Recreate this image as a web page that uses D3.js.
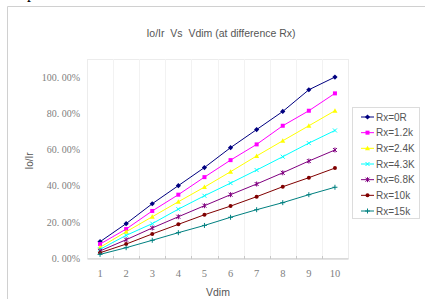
<!DOCTYPE html>
<html>
<head>
<meta charset="utf-8">
<script src="https://cdn.jsdelivr.net/npm/d3@7"></script>
<style>
body { margin:0; background:#fff; }
svg { display:block; }
</style>
</head>
<body>
<svg id="svg" width="425" height="299"></svg>
<script>
// data
var vdim = [1,2,3,4,5,6,7,8,9,10];
var seriesNames = ["Rx=0R","Rx=1.2k","Rx=2.4K","Rx=4.3K","Rx=6.8K","Rx=10k","Rx=15k"];
var rx0R  = [0.09,0.19,0.30,0.40,0.50,0.61,0.71,0.81,0.93,1.00];
var rx1k2 = [0.077,0.16,0.26,0.35,0.447,0.541,0.628,0.731,0.814,0.91];
var rx2k4 = [0.059,0.145,0.228,0.311,0.392,0.477,0.564,0.648,0.731,0.814];
var rx4k3 = [0.048,0.125,0.19,0.27,0.344,0.414,0.486,0.56,0.635,0.705];
var rx6k8 = [0.039,0.101,0.166,0.228,0.289,0.35,0.409,0.471,0.536,0.597];
var rx10k = [0.029,0.077,0.133,0.186,0.239,0.287,0.339,0.394,0.444,0.497];
var rx15k = [0.02,0.057,0.098,0.14,0.18,0.225,0.267,0.306,0.35,0.391];
var yTicks = [0,0.2,0.4,0.6,0.8,1.0];

var allSeries = [rx0R,rx1k2,rx2k4,rx4k3,rx6k8,rx10k,rx15k];
var colors = ["#000080","#ff00ff","#ffff00","#00ffff","#800080","#800000","#008080"];
var markers = ["diamond","square","triangle","x","star","circle","plus"];

var svg = d3.select("#svg");

// outer chart border
svg.append("path")
.attr("d","M7.5,310 V6.5 H440")
.attr("fill","none")
.attr("stroke","#d0d0d0");

// stray glyph at the top (cut off in the reference too)
svg.append("text")
.attr("x",27).attr("y",-2)
.style("font-family","Liberation Serif")
.style("font-size","16px")
.text("p");

var plot = {left:87, right:348, top:59, bottom:258};

var x = d3.scaleBand().domain(vdim).range([plot.left,plot.right]);
var y = d3.scaleLinear().domain([0,1.1]).range([plot.bottom,plot.top]);

// plot area box
svg.append("rect")
.attr("x",plot.left+0.5).attr("y",plot.top+0.5)
.attr("width",plot.right-plot.left).attr("height",plot.bottom-plot.top)
.attr("fill","none").attr("stroke","#ececec");

// light vertical grid at category boundaries
svg.append("g").selectAll("line")
.data(vdim.slice(1))
.join("line")
.attr("x1",function(d){ return Math.round(x(d))+0.5; })
.attr("x2",function(d){ return Math.round(x(d))+0.5; })
.attr("y1",plot.top).attr("y2",plot.bottom)
.attr("stroke","#f2f2f2");

// x axis
var xAxis = svg.append("g")
.attr("transform","translate(0,"+(plot.bottom+0.5)+")")
.call(d3.axisBottom(x).tickSize(0).tickPadding(11));
xAxis.select(".domain").attr("stroke","#c8c8c8");
xAxis.selectAll("text")
.style("font-family","Liberation Serif")
.style("font-size","10.5px")
.attr("fill","#808080");
svg.append("g").selectAll("line")
.data(vdim.slice(1))
.join("line")
.attr("x1",function(d){ return Math.round(x(d))+0.5; })
.attr("x2",function(d){ return Math.round(x(d))+0.5; })
.attr("y1",plot.bottom-2).attr("y2",plot.bottom+1)
.attr("stroke","#c8c8c8");

// y axis labels
var yAxis = svg.append("g")
.attr("transform","translate(80,0)")
.call(d3.axisLeft(y).tickValues(yTicks).tickSize(0).tickPadding(0)
  .tickFormat(function(d){ return d3.format(".2f")(d*100).replace(".",". ")+"%"; }));
yAxis.select(".domain").remove();
yAxis.selectAll("text")
.style("font-family","Liberation Serif")
.style("font-size","10px")
.style("white-space","pre")
.attr("fill","#808080");

// titles
svg.append("text")
.attr("x",221).attr("y",37)
.attr("text-anchor","middle")
.style("font-family","Liberation Sans")
.style("font-size","10.5px")
.style("white-space","pre")
.attr("fill","#555")
.text("Io/Ir  Vs  Vdim (at difference Rx)");

svg.append("text")
.attr("x",218).attr("y",296)
.attr("text-anchor","middle")
.style("font-family","Liberation Sans")
.style("font-size","10.5px")
.attr("fill","#555")
.text("Vdim");

svg.append("text")
.attr("transform","translate(33,161) rotate(-90)")
.attr("text-anchor","middle")
.style("font-family","Liberation Sans")
.style("font-size","10px")
.attr("fill","#555")
.text("Io/Ir");

// markers
function marker(g, type, color){
  if (type=="diamond") g.append("path").attr("d","M0,-2.6L2.6,0L0,2.6L-2.6,0Z").attr("fill",color);
  else if (type=="square") g.append("rect").attr("x",-2).attr("y",-2).attr("width",4).attr("height",4).attr("fill",color);
  else if (type=="triangle") g.append("path").attr("d","M0,-2.5L2.5,2L-2.5,2Z").attr("fill",color);
  else if (type=="x") g.append("path").attr("d","M-2,-2L2,2M-2,2L2,-2").attr("stroke",color).attr("stroke-width",1);
  else if (type=="star") g.append("path").attr("d","M-2,-2L2,2M-2,2L2,-2M0,-2.5V2.5").attr("stroke",color).attr("stroke-width",1);
  else if (type=="circle") g.append("circle").attr("r",2).attr("fill",color);
  else if (type=="plus") g.append("path").attr("d","M-2.5,0H2.5M0,-2.5V2.5").attr("stroke",color).attr("stroke-width",1);
}

var line = d3.line()
.x(function(d,i){ return x(vdim[i]) + x.bandwidth()/2; })
.y(function(d){ return y(d); });

allSeries.forEach(function(s,k){
  svg.append("path")
  .datum(s)
  .attr("d",line)
  .attr("fill","none")
  .attr("stroke",colors[k])
  .attr("stroke-width",1);
  s.forEach(function(v,i){
    var g = svg.append("g").attr("transform","translate("+(x(vdim[i])+x.bandwidth()/2)+","+y(v)+")");
    marker(g, markers[k], colors[k]);
  });
});

// LEGEND
svg.append("rect")
.attr("x",352.5).attr("y",107.5)
.attr("width",67).attr("height",111)
.attr("fill","#fff").attr("stroke","#dcdcdc");

var legendY = d3.scalePoint().domain(seriesNames).range([117,211]);

seriesNames.forEach(function(n,k){
  var ly = legendY(n);
  svg.append("line")
  .attr("x1",361).attr("x2",374).attr("y1",ly).attr("y2",ly)
  .attr("stroke",colors[k]);
  var g = svg.append("g").attr("transform","translate(367.5,"+ly+")");
  marker(g, markers[k], colors[k]);
  svg.append("text")
  .attr("x",376).attr("y",ly+3.5)
  .style("font-family","Liberation Sans")
  .style("font-size","10px")
  .attr("fill","#555")
  .text(n);
});
</script>
</body>
</html>
